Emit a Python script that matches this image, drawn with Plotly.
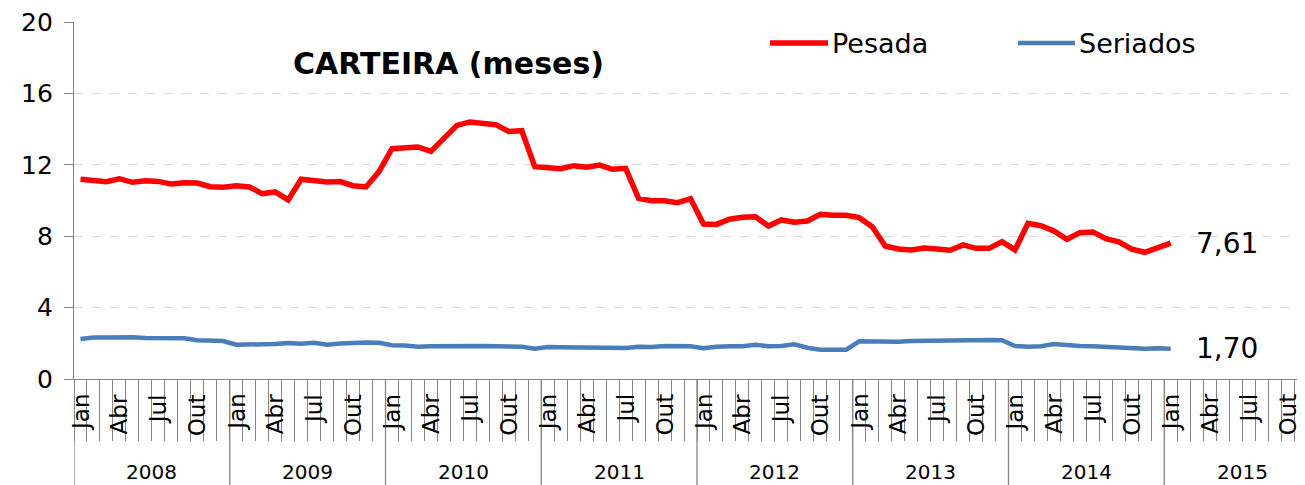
import plotly.graph_objects as go

# ---- data -------------------------------------------------------------
years = ["2008", "2009", "2010", "2011", "2012", "2013", "2014", "2015"]
month_names = ["Jan", "Fev", "Mar", "Abr", "Mai", "Jun",
               "Jul", "Ago", "Set", "Out", "Nov", "Dez"]
shown_months = ["Jan", "Abr", "Jul", "Out"]

pesada = [
    11.19, 11.15, 11.05, 11.22, 11.02, 11.11, 11.07, 10.92, 11.00, 10.98, 10.77, 10.74,  # 2008
    10.83, 10.76, 10.38, 10.48, 10.03, 11.19, 11.11, 11.04, 11.06, 10.83, 10.76, 11.62,  # 2009
    12.90, 12.96, 13.00, 12.75, 13.45, 14.21, 14.40, 14.30, 14.25, 13.87, 13.91, 11.89,  # 2010
    11.80, 11.78, 11.95, 11.86, 11.98, 11.75, 11.80, 10.12, 9.99, 9.99, 9.88, 10.10,     # 2011
    8.68, 8.66, 8.95, 9.06, 9.09, 8.57, 8.91, 8.78, 8.85, 9.22, 9.17, 9.17,             # 2012
    9.04, 8.53, 7.45, 7.28, 7.23, 7.34, 7.28, 7.21, 7.51, 7.32, 7.32, 7.69,             # 2013
    7.23, 8.72, 8.59, 8.29, 7.83, 8.20, 8.24, 7.86, 7.68, 7.27, 7.10, 7.38,             # 2014
    7.61,                                                                                # 2015
]
seriados = [
    2.24, 2.33, 2.32, 2.35, 2.34, 2.30, 2.30, 2.29, 2.28, 2.17, 2.13, 2.13,
    1.92, 1.92, 1.94, 1.96, 2.02, 1.98, 2.03, 1.92, 1.99, 2.05, 2.05, 2.03,
    1.89, 1.88, 1.81, 1.83, 1.85, 1.83, 1.87, 1.85, 1.83, 1.81, 1.81, 1.70,
    1.79, 1.78, 1.78, 1.77, 1.78, 1.72, 1.74, 1.81, 1.79, 1.85, 1.87, 1.83,
    1.72, 1.81, 1.83, 1.83, 1.92, 1.83, 1.85, 1.94, 1.75, 1.64, 1.64, 1.64,
    2.11, 2.09, 2.09, 2.09, 2.13, 2.15, 2.17, 2.19, 2.19, 2.19, 2.19, 2.17,
    1.85, 1.81, 1.83, 1.96, 1.89, 1.85, 1.83, 1.79, 1.75, 1.75, 1.70, 1.72,
    1.70,
]
y_ticks = [0, 4, 8, 12, 16, 20]
end_labels = ["7,61", "1,70"]

# ---- geometry / style -------------------------------------------------
BODY = 8                      # default page margin around the plot div
PAGE_W, PAGE_H = 1305, 485
W, H = PAGE_W - BODY, PAGE_H - BODY
PLOT_L, PLOT_T, PLOT_B = 74, 22, 379          # page pixel positions
ML, MT = PLOT_L - BODY, PLOT_T - BODY
MB = H - (PLOT_B - BODY)
plot_w = W - ML
plot_h = H - MT - MB
n_months = len(years) * 12
month_px = 155.75 / 12.0
x_max = plot_w / month_px - 0.5     # chart continues beyond the right edge

FONT = "Verdana, DejaVu Sans, sans-serif"
RED = "#FF0000"
BLUE = "#4A7EBB"
AXIS = "#868686"


def px2x(px):
    return (px - PLOT_L) / plot_w


def py2y(py):
    return (PLOT_B - py) / plot_h


fig = go.Figure()
fig.add_trace(go.Scatter(x=list(range(len(pesada))), y=pesada, mode="lines",
                         name="Pesada", line=dict(color=RED, width=5.5),
                         showlegend=False))
fig.add_trace(go.Scatter(x=list(range(len(seriados))), y=seriados, mode="lines",
                         name="Seriados", line=dict(color=BLUE, width=4.5),
                         showlegend=False))

annotations = []
shapes = []

# month labels (rotated)
for k in range(n_months):
    m = month_names[k % 12]
    if m in shown_months:
        annotations.append(dict(x=k, y=0, xref="x", yref="paper", text=m,
                                textangle=-90, showarrow=False,
                                xanchor="center", yanchor="top", yshift=-13,
                                font=dict(family=FONT, size=23, color="#000")))
# year labels and separators
for i, yr in enumerate(years):
    annotations.append(dict(x=12 * i + 5.5, y=0, xref="x", yref="paper", text=yr,
                            showarrow=False, xanchor="center", yanchor="middle",
                            yshift=-93, font=dict(family=FONT, size=20, color="#000")))
for i in range(len(years) + 1):
    shapes.append(dict(type="line", xref="x", yref="paper",
                       x0=12 * i - 0.5, x1=12 * i - 0.5,
                       y0=0, y1=-MB / plot_h, line=dict(color=AXIS, width=1.3)))

# end value labels
for series, lab in [(pesada, end_labels[0]), (seriados, end_labels[1])]:
    annotations.append(dict(x=len(series) - 1, y=series[-1], xref="x", yref="y",
                            text=lab, showarrow=False, xanchor="left",
                            yanchor="middle", xshift=23,
                            font=dict(family=FONT, size=28, color="#000")))

# title
annotations.append(dict(x=px2x(448), y=py2y(63), xref="paper", yref="paper",
                        text="<b>CARTEIRA (meses)</b>", showarrow=False,
                        xanchor="center", yanchor="middle",
                        font=dict(family=FONT, size=30, color="#000")))

# legend (drawn manually to match the long line samples)
for (x0, x1, col, name, lw) in [(770, 828, RED, "Pesada", 5.5),
                                (1018, 1075, BLUE, "Seriados", 4.5)]:
    shapes.append(dict(type="line", xref="paper", yref="paper",
                       x0=px2x(x0), x1=px2x(x1), y0=py2y(43), y1=py2y(43),
                       line=dict(color=col, width=lw)))
    annotations.append(dict(x=px2x(x1 + 2), y=py2y(43), xref="paper", yref="paper",
                            text=name, showarrow=False, xanchor="left",
                            yanchor="middle",
                            font=dict(family=FONT, size=27, color="#000")))

fig.update_layout(
    width=W, height=H,
    margin=dict(l=ML, r=0, t=MT, b=MB, pad=0),
    paper_bgcolor="white", plot_bgcolor="white",
    showlegend=False,
    xaxis=dict(range=[-0.5, x_max], showgrid=False, zeroline=False,
               showline=True, linecolor=AXIS, linewidth=1.3,
               tickmode="array", tickvals=[k - 0.5 for k in range(n_months + 1)],
               ticks="outside", ticklen=61, tickwidth=1, tickcolor=AXIS,
               showticklabels=False),
    yaxis=dict(range=[0, 20], tickmode="array", tickvals=y_ticks,
               showgrid=True, gridcolor="#D9D9D9", griddash="dash", gridwidth=1.3,
               zeroline=False, showline=True, linecolor=AXIS, linewidth=1.3,
               ticks="outside", ticklen=9, tickcolor=AXIS, tickwidth=1.3,
               ticklabelstandoff=6, ticklabeloverflow="allow",
               tickfont=dict(family=FONT, size=25, color="#000")),
    annotations=annotations,
    shapes=shapes,
)

fig.write_html("out.html")
